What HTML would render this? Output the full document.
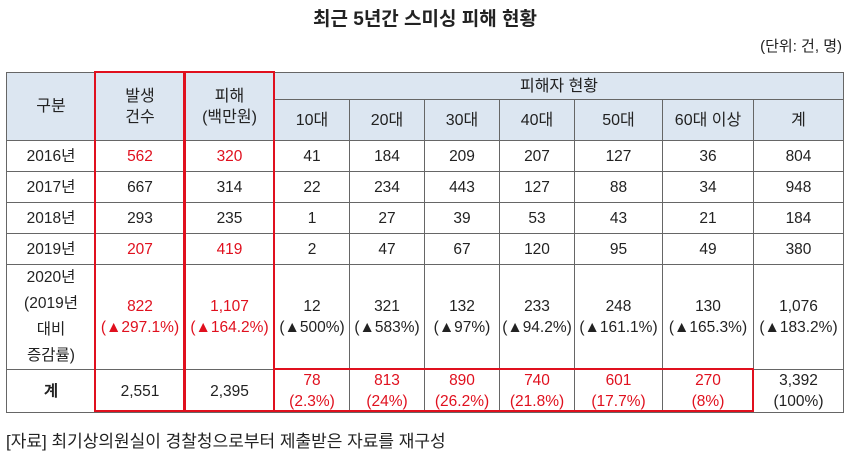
<!DOCTYPE html>
<html><head><meta charset="utf-8">
<style>
body{margin:0;background:#fff;width:850px;height:455px;position:relative;overflow:hidden;font-family:"Liberation Sans","Noto Sans CJK KR","NanumGothic",sans-serif;color:#222}
.t{position:absolute;left:0;width:850px;text-align:center;top:4px;font-size:19px;font-weight:bold}
.u{position:absolute;right:8px;top:35px;font-size:15px}
.f{position:absolute;left:6px;top:427px;font-size:17px}
table{position:absolute;left:6px;top:72px;border-collapse:collapse;table-layout:fixed;font-size:15.5px}
td{border:1px solid #666;text-align:center;padding:0;line-height:21px}
.h{background:#dce6f1;font-size:16px}
.r{color:#e0101e}
.box{position:absolute;border:2px solid #e0101e;box-sizing:border-box}
</style></head><body>
<div class="t">최근 5년간 스미싱 피해 현황</div>
<div class="u">(단위: 건, 명)</div>
<table>
<colgroup><col style="width:89px"><col style="width:89px"><col style="width:90px"><col style="width:75px"><col style="width:75px"><col style="width:75px"><col style="width:75px"><col style="width:88px"><col style="width:91px"><col style="width:90px"></colgroup>
<tr style="height:27px"><td class="h" rowspan="2">구분</td><td class="h" rowspan="2">발생<br>건수</td><td class="h" rowspan="2">피해<br>(백만원)</td><td class="h" colspan="7">피해자 현황</td></tr>
<tr style="height:41px"><td class="h">10대</td><td class="h">20대</td><td class="h">30대</td><td class="h">40대</td><td class="h">50대</td><td class="h">60대 이상</td><td class="h">계</td></tr>
<tr style="height:31px"><td>2016년</td><td class="r">562</td><td class="r">320</td><td>41</td><td>184</td><td>209</td><td>207</td><td>127</td><td>36</td><td>804</td></tr>
<tr style="height:31px"><td>2017년</td><td>667</td><td>314</td><td>22</td><td>234</td><td>443</td><td>127</td><td>88</td><td>34</td><td>948</td></tr>
<tr style="height:31px"><td>2018년</td><td>293</td><td>235</td><td>1</td><td>27</td><td>39</td><td>53</td><td>43</td><td>21</td><td>184</td></tr>
<tr style="height:31px"><td>2019년</td><td class="r">207</td><td class="r">419</td><td>2</td><td>47</td><td>67</td><td>120</td><td>95</td><td>49</td><td>380</td></tr>
<tr style="height:105px"><td style="line-height:26px">2020년<br>(2019년<br>대비<br>증감률)</td><td class="r">822<br>(▲297.1%)</td><td class="r">1,107<br>(▲164.2%)</td><td>12<br>(▲500%)</td><td>321<br>(▲583%)</td><td>132<br>(▲97%)</td><td>233<br>(▲94.2%)</td><td>248<br>(▲161.1%)</td><td>130<br>(▲165.3%)</td><td>1,076<br>(▲183.2%)</td></tr>
<tr style="height:42px"><td><b>계</b></td><td>2,551</td><td>2,395</td><td class="r">78<br>(2.3%)</td><td class="r">813<br>(24%)</td><td class="r">890<br>(26.2%)</td><td class="r">740<br>(21.8%)</td><td class="r">601<br>(17.7%)</td><td class="r">270<br>(8%)</td><td>3,392<br>(100%)</td></tr>
</table>
<div class="box" style="left:94px;top:71px;width:92px;height:341px"></div>
<div class="box" style="left:183px;top:71px;width:92px;height:341px"></div>
<div class="box" style="left:273px;top:368px;width:481px;height:44px"></div>
<div class="f">[자료] 최기상의원실이 경찰청으로부터 제출받은 자료를 재구성</div>
</body></html>
